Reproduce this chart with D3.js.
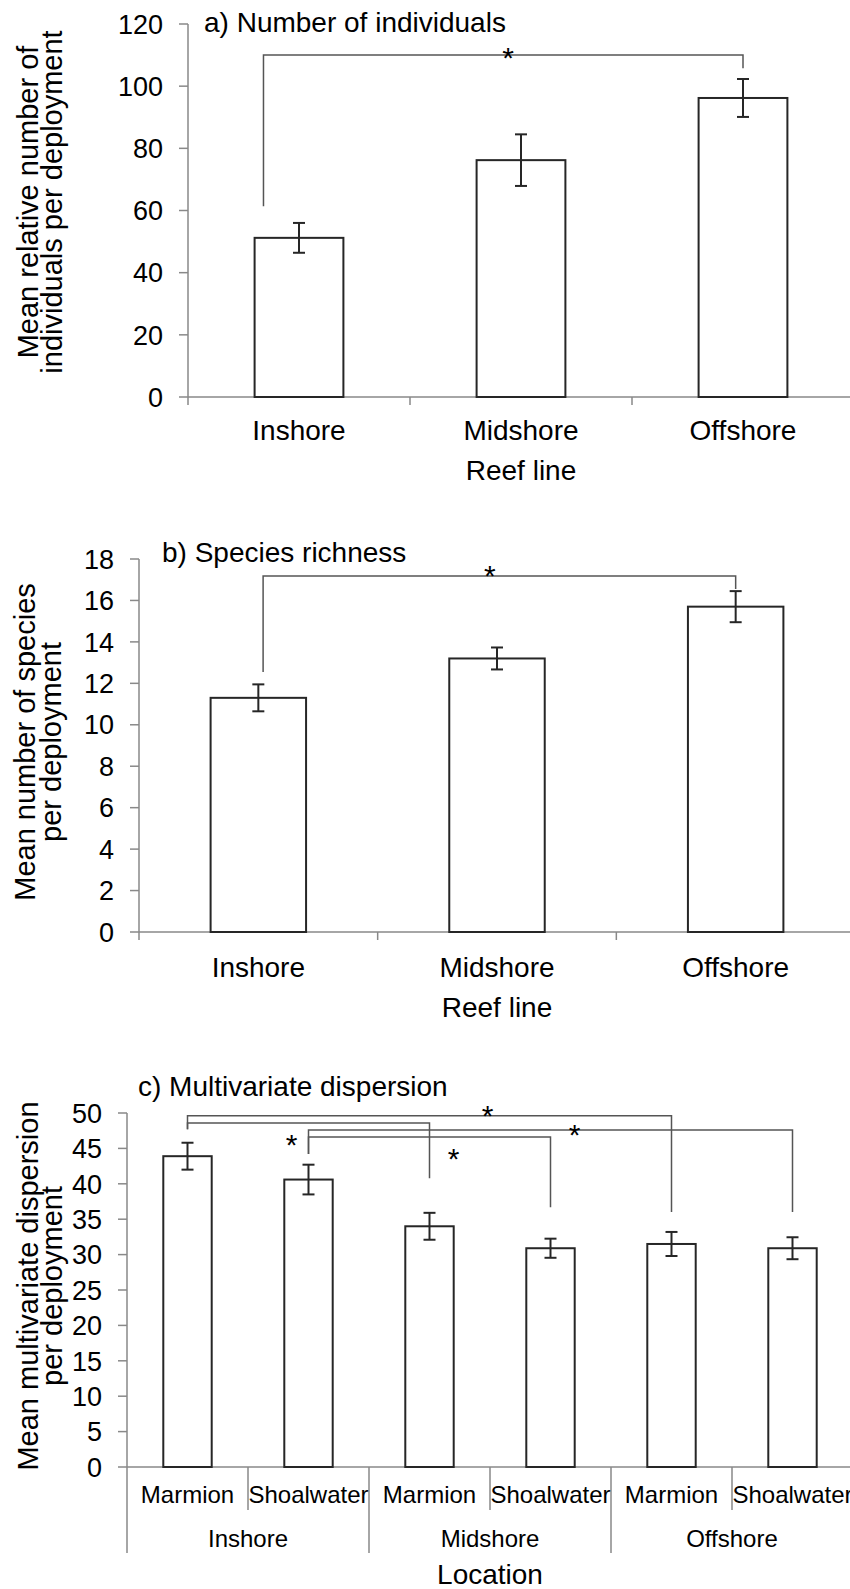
<!DOCTYPE html>
<html>
<head>
<meta charset="utf-8">
<script src="https://cdn.jsdelivr.net/npm/d3@7"></script>
<style>
  body { margin: 0; background: #fff; }
  svg text { font-family: "Liberation Sans", Arial, sans-serif; fill: #000; }
</style>
</head>
<body>
<div id="chart"></div>
<script>
// ---- data ----
var reefLines = ["Inshore", "Midshore", "Offshore"];
var locations = ["Marmion", "Shoalwater"];

var individualsMean = [51.2, 76.2, 96.2];
var individualsSE = [4.8, 8.3, 6.1];

var richnessMean = [11.3, 13.2, 15.7];
var richnessSE = [0.65, 0.53, 0.75];

// order: Inshore Marmion, Inshore Shoalwater, Midshore Marmion, ...
var dispersionMean = [43.9, 40.6, 34.0, 30.9, 31.5, 30.9];
var dispersionSE = [1.9, 2.1, 1.9, 1.35, 1.7, 1.55];

var ticksA = [0, 20, 40, 60, 80, 100, 120];
var ticksB = [0, 2, 4, 6, 8, 10, 12, 14, 16, 18];
var ticksC = [0, 5, 10, 15, 20, 25, 30, 35, 40, 45, 50];

// significance brackets: bar indices, line level, end levels, star (fraction along, level)
var bracketsA = [{from: 0, to: 2, level: 110, fromEnd: 61.4, toEnd: 105.8, starAt: 0.51, starLevel: 111.4}];
var bracketsB = [{from: 0, to: 2, level: 17.18, fromEnd: 12.55, toEnd: 16.55, starAt: 0.48, starLevel: 17.5}];
var bracketsC = [
    {from: 0, to: 4, level: 49.6, fromEnd: 47.7, toEnd: 36.0, starAt: 0.62, starLevel: 50.6},
    {from: 0, to: 2, level: 48.6, fromEnd: 47.7, toEnd: 40.8, starAt: 1.10, starLevel: 44.5},
    {from: 1, to: 5, level: 47.6, fromEnd: 44.2, toEnd: 36.0, starAt: 0.55, starLevel: 47.9},
    {from: 1, to: 3, level: 46.6, fromEnd: 44.2, toEnd: 36.7, starAt: -0.07, starLevel: 46.5}
];

var W = 850, H = 1589;
var axisColor = "#898989", barColor = "#262626", bracketColor = "#555";

var svg = d3.select("#chart").append("svg")
    .attr("width", W)
    .attr("height", H);

// common pieces ---------------------------------------------------------
function drawYAxis(g, y, ticks, x0, top, bottom) {
    // axis line (extends below zero to the first category tick)
    g.append("line")
        .attr("x1", x0).attr("x2", x0)
        .attr("y1", y(ticks[ticks.length - 1])).attr("y2", bottom)
        .attr("stroke", axisColor).attr("stroke-width", 1.5);

    g.selectAll(".ytick").data(ticks).enter()
        .append("line")
        .attr("x1", x0 - 9).attr("x2", x0)
        .attr("y1", function(d) { return y(d); })
        .attr("y2", function(d) { return y(d); })
        .attr("stroke", axisColor).attr("stroke-width", 1.5);

    g.selectAll(".ylab").data(ticks).enter()
        .append("text")
        .attr("x", x0 - 25)
        .attr("y", function(d) { return y(d); })
        .attr("dy", "0.36em")
        .attr("text-anchor", "end")
        .style("font-size", "27px")
        .text(function(d) { return d; });
}

function drawBars(g, x, y, keys, means, ses) {
    var rows = keys.map(function(k, i) { return {key: k, mean: means[i], se: ses[i]}; });

    g.selectAll(".bar").data(rows).enter()
        .append("rect")
        .attr("x", function(d) { return x(d.key); })
        .attr("y", function(d) { return y(d.mean); })
        .attr("width", x.bandwidth())
        .attr("height", function(d) { return y(0) - y(d.mean); })
        .attr("fill", "#fff")
        .attr("stroke", barColor)
        .attr("stroke-width", 2);

    var err = g.selectAll(".err").data(rows).enter().append("g")
        .attr("transform", function(d) { return "translate(" + (x(d.key) + x.bandwidth() / 2) + ",0)"; });
    err.append("line")
        .attr("y1", function(d) { return y(d.mean + d.se); })
        .attr("y2", function(d) { return y(d.mean - d.se); })
        .attr("stroke", barColor).attr("stroke-width", 2);
    err.append("line")
        .attr("x1", -6).attr("x2", 6)
        .attr("y1", function(d) { return y(d.mean + d.se); })
        .attr("y2", function(d) { return y(d.mean + d.se); })
        .attr("stroke", barColor).attr("stroke-width", 2);
    err.append("line")
        .attr("x1", -6).attr("x2", 6)
        .attr("y1", function(d) { return y(d.mean - d.se); })
        .attr("y2", function(d) { return y(d.mean - d.se); })
        .attr("stroke", barColor).attr("stroke-width", 2);
}

function drawBrackets(g, centerX, y, brackets, fromNudge) {
    brackets.forEach(function(b) {
        var xa = centerX(b.from) + (fromNudge || 0), xb = centerX(b.to);
        g.append("path")
            .attr("d", "M" + xa + "," + y(b.fromEnd) + "V" + y(b.level) + "H" + xb + "V" + y(b.toEnd))
            .attr("fill", "none")
            .attr("stroke", bracketColor)
            .attr("stroke-width", 1.5);
        g.append("text")
            .attr("x", xa + (xb - xa) * b.starAt)
            .attr("y", y(b.starLevel) + 17)
            .attr("text-anchor", "middle")
            .style("font-size", "30px")
            .text("*");
    });
}

function drawYLabel(g, lines, xs, cy) {
    lines.forEach(function(t, i) {
        g.append("text")
            .attr("transform", "translate(" + xs[i] + "," + cy + ") rotate(-90)")
            .attr("text-anchor", "middle")
            .style("font-size", "29px")
            .text(t);
    });
}

// panels a and b -----------------------------------------------------------
function simplePanel(p) {
    var g = svg.append("g");

    var x = d3.scaleBand()
        .domain(reefLines)
        .range([p.left, p.right])
        .paddingInner(0.6)
        .paddingOuter(0.3);

    var y = d3.scaleLinear()
        .domain([0, p.ticks[p.ticks.length - 1]])
        .range([p.bottom, p.top]);

    // x axis line + category separators
    g.append("line")
        .attr("x1", p.left).attr("x2", p.right)
        .attr("y1", y(0)).attr("y2", y(0))
        .attr("stroke", axisColor).attr("stroke-width", 1.5);
    g.selectAll(".sep").data(d3.range(1, reefLines.length + 1)).enter()
        .append("line")
        .attr("x1", function(i) { return p.left + i * x.step(); })
        .attr("x2", function(i) { return p.left + i * x.step(); })
        .attr("y1", y(0)).attr("y2", y(0) + 8)
        .attr("stroke", axisColor).attr("stroke-width", 1.5);

    drawYAxis(g, y, p.ticks, p.left, p.top, y(0) + 8);
    drawBars(g, x, y, reefLines, p.means, p.ses);

    var cx = function(i) { return x(reefLines[i]) + x.bandwidth() / 2; };
    drawBrackets(g, cx, y, p.brackets, p.fromNudge * x.step());

    g.selectAll(".xlab").data(reefLines).enter()
        .append("text")
        .attr("x", function(d) { return x(d) + x.bandwidth() / 2; })
        .attr("y", p.catBaseline)
        .attr("text-anchor", "middle")
        .style("font-size", "28px")
        .text(function(d) { return d; });

    g.append("text")
        .attr("x", (p.left + p.right) / 2)
        .attr("y", p.catBaseline + 40)
        .attr("text-anchor", "middle")
        .style("font-size", "28px")
        .text("Reef line");

    g.append("text")
        .attr("x", p.titleX)
        .attr("y", p.titleY)
        .style("font-size", "28px")
        .text(p.title);

    drawYLabel(g, p.yLabel, p.yLabelX, p.yLabelY);
}

simplePanel({
    left: 188, right: 854, top: 24, bottom: 397,
    ticks: ticksA, means: individualsMean, ses: individualsSE,
    brackets: bracketsA, fromNudge: -0.16,
    catBaseline: 440,
    title: "a) Number of individuals", titleX: 204, titleY: 32,
    yLabel: ["Mean relative number of", "individuals per deployment"],
    yLabelX: [38, 62], yLabelY: 202
});

simplePanel({
    left: 139, right: 855, top: 559, bottom: 932,
    ticks: ticksB, means: richnessMean, ses: richnessSE,
    brackets: bracketsB, fromNudge: 0.02,
    catBaseline: 977,
    title: "b) Species richness", titleX: 162, titleY: 562,
    yLabel: ["Mean number of species", "per deployment"],
    yLabelX: [35, 61], yLabelY: 742
});

// panel c: grouped categories ---------------------------------------------
(function() {
    var left = 127, right = 853, top = 1113, bottom = 1467;
    var g = svg.append("g");

    var keys = [];
    reefLines.forEach(function(r) {
        locations.forEach(function(l) { keys.push(r + "|" + l); });
    });

    var x = d3.scaleBand()
        .domain(keys)
        .range([left, right])
        .paddingInner(0.6)
        .paddingOuter(0.3);

    var y = d3.scaleLinear()
        .domain([0, ticksC[ticksC.length - 1]])
        .range([bottom, top]);

    var step = x.step();

    g.append("line")
        .attr("x1", left).attr("x2", right)
        .attr("y1", y(0)).attr("y2", y(0))
        .attr("stroke", axisColor).attr("stroke-width", 1.5);

    // separators: short ones between locations, long ones between reef lines
    g.selectAll(".sep").data(d3.range(1, keys.length + 1)).enter()
        .append("line")
        .attr("x1", function(i) { return left + i * step; })
        .attr("x2", function(i) { return left + i * step; })
        .attr("y1", y(0))
        .attr("y2", function(i) { return i % locations.length === 0 ? 1553 : 1510; })
        .attr("stroke", axisColor).attr("stroke-width", 1.5);

    drawYAxis(g, y, ticksC, left, top, 1553);
    drawBars(g, x, y, keys, dispersionMean, dispersionSE);

    var cx = function(i) { return x(keys[i]) + x.bandwidth() / 2; };
    drawBrackets(g, cx, y, bracketsC, 0);

    g.selectAll(".sub").data(keys).enter()
        .append("text")
        .attr("x", function(d) { return x(d) + x.bandwidth() / 2; })
        .attr("y", 1503)
        .attr("text-anchor", "middle")
        .style("font-size", "24px")
        .text(function(d) { return d.split("|")[1]; });

    g.selectAll(".grp").data(reefLines).enter()
        .append("text")
        .attr("x", function(d, i) { return left + (i + 0.5) * step * locations.length; })
        .attr("y", 1547)
        .attr("text-anchor", "middle")
        .style("font-size", "24px")
        .text(function(d) { return d; });

    g.append("text")
        .attr("x", (left + right) / 2)
        .attr("y", 1584)
        .attr("text-anchor", "middle")
        .style("font-size", "28px")
        .text("Location");

    g.append("text")
        .attr("x", 138)
        .attr("y", 1096)
        .style("font-size", "28px")
        .text("c) Multivariate dispersion");

    drawYLabel(g, ["Mean multivariate dispersion", "per deployment"], [38, 62], 1286);
})();
</script>
</body>
</html>
